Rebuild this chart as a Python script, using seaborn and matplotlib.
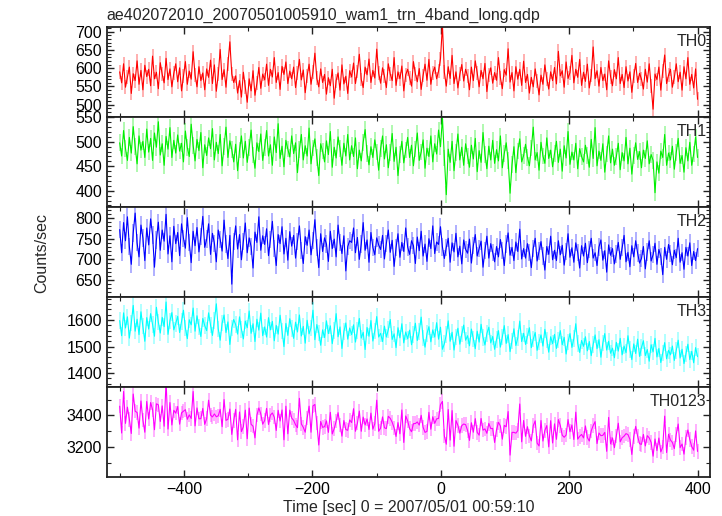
import matplotlib
matplotlib.use("Agg")
import matplotlib.pyplot as plt
from matplotlib.ticker import MultipleLocator
import seaborn as sns
import numpy as np
import pandas as pd

title = "ae402072010_20070501005910_wam1_trn_4band_long.qdp"
t_start, t_stop = -500, 400

th0 = [
    590, 560, 612, 548, 575, 603, 531, 585, 566, 620, 556, 594, 541, 608, 577,
    597, 552, 633, 571, 589, 544, 615, 583, 560, 627, 569, 598, 549, 586, 612,
    563, 601, 538, 579, 618, 556, 592, 570, 645, 581, 549, 604, 566, 587, 541,
    598, 575, 622, 558, 609, 537, 583, 651, 569, 596, 548, 612, 672, 584, 561,
    579, 532, 566, 521, 589, 548, 507, 571, 538, 593, 526, 559, 602, 545, 584,
    568, 611, 553, 597, 576, 629, 561, 588, 542, 605, 583, 617, 558, 592, 571,
    603, 547, 586, 624, 568, 595, 533, 579, 611, 556, 590, 641, 572, 549, 598,
    561, 583, 529, 574, 552, 597, 518, 566, 587, 540, 609, 557, 578, 531, 593,
    576, 614, 558, 591, 638, 569, 547, 603, 582, 625, 561, 594, 573, 652, 586,
    559, 601, 578, 547, 612, 584, 566, 629, 553, 590, 571, 606, 538, 582, 597,
    574, 551, 618, 585, 563, 599, 542, 580, 611, 567, 624, 556, 588, 603, 571,
    592, 626, 718, 589, 551, 604, 572, 635, 558, 590, 546, 583, 610, 565, 597,
    578, 541, 603, 566, 620, 587, 549, 594, 571, 613, 536, 582, 601, 559, 588,
    567, 629, 574, 544, 596, 581, 653, 562, 588, 538, 604, 570, 597, 553, 619,
    561, 583, 532, 575, 549, 598, 564, 527, 581, 556, 609, 571, 543, 590, 566,
    602, 557, 646, 579, 593, 548, 617, 572, 588, 635, 560, 597, 575, 624, 553,
    589, 564, 611, 546, 580, 658, 571, 593, 551, 602, 566, 584, 541, 620, 577,
    552, 596, 571, 629, 558, 583, 547, 604, 565, 590, 534, 578, 613, 561, 586,
    570, 543, 597, 562, 612, 551, 488, 584, 569, 603, 540, 592, 636, 558, 581,
    597, 548, 575, 612, 563, 589, 540, 604, 571, 629, 556, 583, 546, 598, 515,
]

th1 = [
    498, 471, 523, 486, 462, 509, 477, 531, 490, 455, 512, 483, 501, 468, 526,
    479, 507, 462, 518, 489, 541, 473, 496, 452, 511, 485, 529, 468, 503, 477,
    514, 481, 497, 459, 522, 488, 470, 536, 493, 461, 505, 482, 519, 447, 494,
    472, 508, 486, 527, 463, 499, 476, 515, 451, 490, 530, 468, 502, 484, 459,
    495, 441, 483, 512, 467, 501, 458, 489, 524, 473, 446, 498, 480, 516, 462,
    489, 523, 471, 494, 452, 510, 478, 537, 466, 491, 449, 503, 485, 469, 512,
    476, 498, 437, 484, 515, 463, 492, 471, 528, 455, 487, 506, 468, 431, 496,
    481, 459, 502, 474, 521, 448, 489, 467, 510, 486, 452, 497, 471, 515, 463,
    492, 470, 508, 445, 483, 461, 499, 525, 476, 453, 490, 468, 504, 479, 442,
    486, 512, 465, 494, 447, 478, 517, 460, 489, 431, 474, 501, 457, 483, 509,
    468, 493, 451, 485, 518, 462, 479, 504, 446, 487, 470, 512, 459, 496, 475,
    524, 490, 550, 467, 392, 485, 458, 501, 441, 478, 516, 463, 489, 452, 496,
    471, 448, 493, 465, 507, 439, 482, 458, 519, 474, 445, 491, 463, 503, 456,
    484, 461, 512, 447, 476, 498, 462, 395, 453, 490, 437, 481, 506, 459, 472,
    495, 468, 451, 487, 530, 463, 478, 442, 499, 471, 456, 508, 466, 483, 449,
    476, 501, 458, 485, 440, 492, 467, 521, 454, 479, 463, 497, 445, 486, 470,
    459, 493, 472, 448, 505, 466, 529, 451, 481, 462, 496, 438, 475, 512, 457,
    485, 452, 470, 497, 443, 478, 461, 509, 455, 487, 434, 472, 498, 464, 480,
    447, 483, 466, 502, 455, 474, 462, 396, 459, 436, 481, 468, 515, 452, 477,
    463, 491, 444, 478, 507, 456, 472, 438, 488, 461, 499, 452, 475, 510, 468,
]

th2 = [
    772, 716, 789, 745, 803, 731, 688, 764, 812, 740, 706, 783, 752, 697, 776,
    735, 798, 759, 681, 747, 790, 722, 771, 744, 809, 713, 757, 694, 780, 738,
    765, 709, 786, 751, 727, 801, 740, 692, 768, 733, 777, 718, 756, 804, 729,
    749, 786, 712, 763, 739, 694, 771, 748, 720, 795, 737, 702, 758, 640, 744,
    781, 725, 760, 699, 743, 788, 716, 752, 731, 679, 766, 741, 803, 722, 757,
    736, 774, 709, 748, 792, 727, 685, 760, 738, 779, 713, 751, 698, 767, 732,
    758, 703, 744, 781, 722, 690, 755, 734, 771, 711, 746, 796, 728, 680, 762,
    719, 752, 737, 695, 768, 726, 749, 706, 783, 740, 714, 757, 672, 731, 745,
    741, 776, 716, 753, 700, 737, 789, 722, 747, 693, 765, 729, 711, 752, 735,
    724, 758, 701, 739, 771, 717, 746, 683, 728, 762, 705, 741, 719, 776, 730,
    712, 745, 733, 690, 754, 721, 768, 708, 737, 695, 750, 726, 781, 714, 742,
    736, 779, 730, 702, 729, 751, 693, 740, 718, 763, 706, 732, 689, 747, 724,
    715, 749, 691, 733, 760, 708, 726, 744, 681, 721, 756, 703, 738, 717, 694,
    731, 706, 748, 722, 685, 737, 764, 710, 729, 697, 742, 719, 773, 701, 726,
    703, 738, 716, 680, 727, 751, 696, 720, 743, 708, 674, 731, 712, 756, 699,
    722, 697, 745, 711, 734, 686, 719, 762, 705, 728, 693, 740, 717, 679, 733,
    708, 739, 692, 724, 751, 703, 716, 685, 730, 747, 698, 721, 669, 735, 710,
    726, 689, 713, 741, 700, 728, 758, 694, 717, 682, 733, 706, 745, 715, 691,
    702, 731, 677, 718, 745, 696, 711, 739, 688, 724, 707, 663, 729, 700, 736,
    714, 687, 722, 704, 751, 693, 716, 676, 729, 708, 740, 685, 719, 697, 726,
]

th3 = [
    1598, 1541, 1627, 1570, 1612, 1532, 1589, 1655, 1558, 1603, 1545, 1631, 1577, 1520, 1609,
    1566, 1624, 1583, 1539, 1648, 1592, 1551, 1610, 1575, 1668, 1546, 1597, 1628, 1563, 1587,
    1614, 1553, 1595, 1637, 1569, 1530, 1601, 1582, 1645, 1558, 1616, 1574, 1538, 1606, 1579,
    1560, 1627, 1581, 1542, 1598, 1661, 1567, 1524, 1588, 1619, 1553, 1593, 1508, 1571, 1602,
    1583, 1547, 1612, 1565, 1529, 1596, 1571, 1634, 1550, 1586, 1519, 1603, 1562, 1626, 1541,
    1574, 1536, 1609, 1563, 1595, 1522, 1580, 1547, 1618, 1559, 1500, 1587, 1542, 1605, 1568,
    1531, 1592, 1555, 1619, 1540, 1576, 1513, 1599, 1548, 1571, 1637, 1526, 1583, 1552, 1505,
    1563, 1534, 1597, 1549, 1578, 1511, 1560, 1624, 1537, 1574, 1493, 1556, 1589, 1528, 1570,
    1545, 1582, 1517, 1561, 1606, 1532, 1554, 1489, 1572, 1539, 1598, 1521, 1559, 1613, 1536,
    1550, 1519, 1577, 1536, 1564, 1602, 1527, 1548, 1496, 1571, 1533, 1586, 1514, 1555, 1529,
    1562, 1507, 1545, 1588, 1523, 1556, 1611, 1532, 1498, 1549, 1575, 1518, 1563, 1536, 1590,
    1528, 1573, 1490, 1511, 1545, 1597, 1520, 1554, 1487, 1536, 1569, 1509, 1547, 1581, 1524,
    1541, 1503, 1566, 1529, 1492, 1558, 1517, 1584, 1535, 1506, 1549, 1573, 1514, 1538, 1490,
    1527, 1560, 1498, 1536, 1579, 1512, 1545, 1481, 1522, 1567, 1504, 1533, 1596, 1519, 1550,
    1508, 1539, 1571, 1496, 1528, 1553, 1486, 1517, 1544, 1502, 1565, 1525, 1479, 1537, 1511,
    1546, 1493, 1524, 1560, 1507, 1535, 1472, 1518, 1549, 1497, 1531, 1586, 1512, 1478, 1523,
    1501, 1537, 1484, 1519, 1466, 1508, 1544, 1492, 1526, 1460, 1513, 1549, 1487, 1520, 1475,
    1494, 1458, 1516, 1483, 1531, 1469, 1502, 1477, 1541, 1489, 1451, 1510, 1474, 1528, 1463,
    1497, 1522, 1466, 1489, 1445, 1507, 1480, 1531, 1461, 1493, 1440, 1476, 1515, 1454, 1486,
    1469, 1502, 1448, 1485, 1524, 1457, 1490, 1436, 1473, 1509, 1451, 1482, 1439, 1496, 1462,
]

# summed band
n = min(len(th0), len(th1), len(th2), len(th3))
th0123 = [th0[i] + th1[i] + th2[i] + th3[i] for i in range(n)]

labels = ["TH0", "TH1", "TH2", "TH3", "TH0123"]
series = [th0, th1, th2, th3, th0123]
errors = [19, 17, 21, 31, 46]
colors = ["#ff0000", "#00ee00", "#0000ff", "#00ffff", "#ff00ff"]
ylims = [(467, 713), (367, 551), (609, 827), (1348, 1687), (3009, 3580)]
major = [50, 50, 50, 100, 200]
minor = [10, 10, 10, 20, 100]

sns.set_theme(style="ticks")
plt.rcParams['font.family'] = ['Liberation Sans', 'DejaVu Sans']

fig, axes = plt.subplots(5, 1, figsize=(7.22, 5.16), dpi=100, sharex=True)
fig.subplots_adjust(left=0.148, right=0.983, top=0.948, bottom=0.0756, hspace=0)

for ax, lab, vals, err, col, yl, mj, mn in zip(axes, labels, series, errors, colors, ylims, major, minor):
    t = np.linspace(t_start, t_stop, len(vals))
    df = pd.DataFrame({"time": t, "rate": vals})
    ax.errorbar(df["time"], df["rate"], yerr=err, fmt='none', ecolor=col,
                elinewidth=1.1, alpha=0.4)
    sns.lineplot(data=df, x="time", y="rate", ax=ax, color=col, lw=0.8)
    ax.set_ylim(yl)
    ax.set_xlim(-520, 419)
    ax.yaxis.set_major_locator(MultipleLocator(mj))
    ax.yaxis.set_minor_locator(MultipleLocator(mn))
    ax.xaxis.set_major_locator(MultipleLocator(200))
    ax.xaxis.set_minor_locator(MultipleLocator(100))
    ax.tick_params(which='both', direction='in', top=True, right=True,
                   labelsize=11.5, colors='#222222', labelcolor='black')
    ax.tick_params(which='major', length=5, width=1)
    ax.tick_params(which='minor', length=3, width=0.8)
    for sp in ax.spines.values():
        sp.set_linewidth(1.3)
        sp.set_color('#222222')
    ax.set_xlabel("")
    ax.set_ylabel("")
    ax.text(0.995, 0.92, lab, transform=ax.transAxes, ha='right', va='top', fontsize=11.5)

axes[-1].set_xticks([-400, -200, 0, 200, 400])
axes[-1].set_xticklabels(["\u2212400", "\u2212200", "0", "200", "400"])
axes[-1].set_xlabel("Time [sec] 0 = 2007/05/01 00:59:10", fontsize=11.5, labelpad=2)

fig.text(0.148, 0.97, title, ha='left', va='center', fontsize=11.5)
fig.text(0.058, 0.51, "Counts/sec", rotation=90, ha='center', va='center', fontsize=11.5)

fig.savefig("out.png", dpi=100)
